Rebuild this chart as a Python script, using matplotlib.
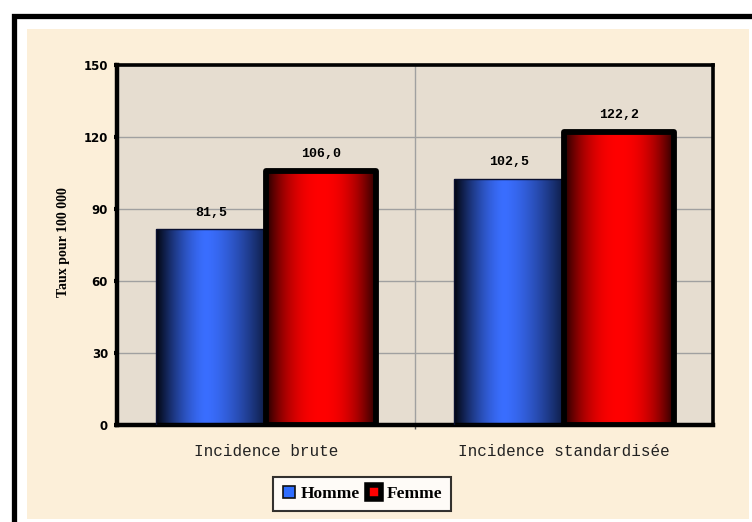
import numpy as np
import matplotlib
matplotlib.use('Agg')
import matplotlib.pyplot as plt
from matplotlib.patches import Rectangle
from matplotlib.lines import Line2D

### Data ###
categories = ['Incidence brute', 'Incidence standardisée']
homme = [81.5, 102.5]
femme = [106.0, 122.2]
homme_labels = ['81,5', '102,5']
femme_labels = ['106,0', '122,2']
y_ticks = [0, 30, 60, 90, 120, 150]

W, H = 752, 522
fig = plt.figure(figsize=(W / 100, H / 100), dpi=100)
fig.patch.set_facecolor('white')

# beige background + thick outer frame (cut off right/bottom)
fig.patches.append(Rectangle((27 / W, 1 - 519 / H), 722 / W, 490 / H,
                             transform=fig.transFigure, facecolor='#fcefd9',
                             edgecolor='none', zorder=-2))
fig.patches.append(Rectangle((13.5 / W, -0.2), 1.2, 1.2 - 15.5 / H,
                             transform=fig.transFigure, facecolor='none',
                             edgecolor='black', lw=3.8, zorder=-1))

ax = fig.add_axes([117 / W, 1 - 425 / H, 596 / W, 360 / H])
ax.set_zorder(2)
ax.set_facecolor('#e6ddd0')


def gradient(left, bright, right, pk=0.5, p=2.0, n=200):
    # horizontal shading: dark edges, bright band near pk
    t = np.linspace(0, 1, n)
    left = np.array(matplotlib.colors.to_rgb(left))
    right = np.array(matplotlib.colors.to_rgb(right))
    bright = np.array(matplotlib.colors.to_rgb(bright))
    img = np.zeros((n, 3))
    for k, tk in enumerate(t):
        if tk <= pk:
            v = 1 - ((pk - tk) / pk) ** p
            img[k] = left + v * (bright - left)
        else:
            v = 1 - ((tk - pk) / (1 - pk)) ** p
            img[k] = right + v * (bright - right)
    return img[None, :, :]


blue_img = gradient('#02050f', '#3a6eff', '#0d1a40', pk=0.45, p=1.5)
red_img = gradient('#200000', '#ff0000', '#200000', pk=0.5, p=2.2)

x = np.arange(len(categories))
bw = 0.37
off = 0.185

for i in range(len(categories)):
    # Homme
    x0 = x[i] - off - bw / 2
    ax.imshow(blue_img, extent=[x0, x0 + bw, 0, homme[i]], aspect='auto', zorder=2)
    ax.bar(x[i] - off, homme[i], bw, facecolor='none', edgecolor='#0a1030', lw=1, zorder=3)
    ax.text(x[i] - off, homme[i] + 7, homme_labels[i], ha='center', va='center',
            family='Liberation Mono', fontweight='bold', fontsize=9.5, zorder=5)
    # Femme
    x0 = x[i] + off - bw / 2
    ax.imshow(red_img, extent=[x0, x0 + bw, 0, femme[i]], aspect='auto', zorder=2)
    ax.bar(x[i] + off, femme[i], bw, facecolor='none', edgecolor='black', lw=4.2,
           zorder=4, joinstyle='round')
    ax.text(x[i] + off, femme[i] + 7, femme_labels[i], ha='center', va='center',
            family='Liberation Mono', fontweight='bold', fontsize=9.5, zorder=5)

ax.set_xlim(-0.5, 1.5)
ax.set_ylim(0, 150)

# grid
ax.set_yticks(y_ticks)
ax.set_xticks(x)
ax.set_xticks([0.5], minor=True)
ax.grid(axis='y', which='major', color='#a0a0a0', lw=1, zorder=1)
ax.grid(axis='x', which='minor', color='#a0a0a0', lw=1, zorder=1)
ax.set_axisbelow(True)

ax.set_xticklabels(categories, family='Liberation Mono', fontsize=11.5, color='#222222')
ax.set_yticklabels([str(v) for v in y_ticks], family='DejaVu Sans',
                   fontweight='bold', fontsize=8.5)
ax.tick_params(axis='y', direction='out', length=2.5, width=3, pad=4)
ax.tick_params(axis='x', which='major', length=0, pad=14)
ax.tick_params(axis='x', which='minor', direction='out', length=3, width=1, color='#555')

for s in ['left', 'bottom']:
    ax.spines[s].set_linewidth(3.2)
for s in ['top', 'right']:
    ax.spines[s].set_linewidth(2.6)

fig.text(64 / W, 1 - 242 / H, 'Taux pour 100 000', rotation=90, ha='center',
         va='center', family='Liberation Serif', fontweight='bold', fontsize=10)

handles = [
    Line2D([], [], ls='none', marker='s', markersize=9, markerfacecolor='#2f6dff',
           markeredgecolor='#111111', markeredgewidth=1.2),
    Line2D([], [], ls='none', marker='s', markersize=10, markerfacecolor='#ff0000',
           markeredgecolor='black', markeredgewidth=4),
]
leg = fig.legend(handles, ['Homme', 'Femme'], loc='center',
                 bbox_to_anchor=(362 / W, 1 - 494 / H), ncol=2, frameon=True,
                 fancybox=False, handlelength=0.8, handletextpad=0.3,
                 columnspacing=0.4, borderpad=0.5,
                 prop={'family': 'Liberation Serif', 'weight': 'bold', 'size': 12.5})
leg.get_frame().set_edgecolor('black')
leg.get_frame().set_linewidth(1.5)
leg.get_frame().set_facecolor('white')

fig.savefig('out.png', dpi=100)
